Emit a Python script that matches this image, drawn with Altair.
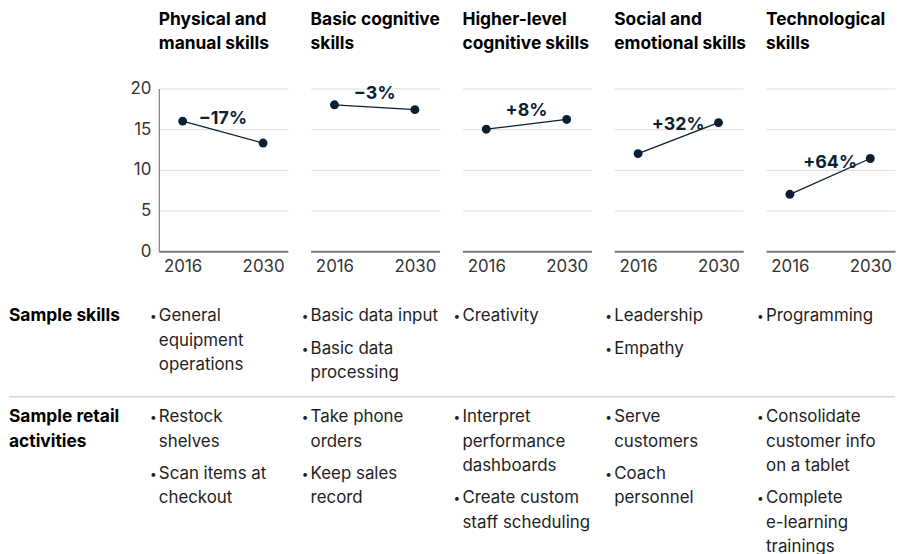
import altair as alt
import pandas as pd

# ---------------- data ----------------
titles = [
    ["Physical and", "manual skills"],
    ["Basic cognitive", "skills"],
    ["Higher-level", "cognitive skills"],
    ["Social and", "emotional skills"],
    ["Technological", "skills"],
]
years = [2016, 2030]
v2016 = [16.0, 18.0, 15.0, 12.0, 7.0]
v2030 = [13.3, 17.4, 16.2, 15.8, 11.4]
changes = ["\u221217%", "\u22123%", "+8%", "+32%", "+64%"]
y_ticks = [0, 5, 10, 15, 20]

row_labels = [["Sample skills"], ["Sample retail", "activities"]]
sample_skills = [
    [["General", "equipment", "operations"]],
    [["Basic data input"], ["Basic data", "processing"]],
    [["Creativity"]],
    [["Leadership"], ["Empathy"]],
    [["Programming"]],
]
retail_activities = [
    [["Restock", "shelves"], ["Scan items at", "checkout"]],
    [["Take phone", "orders"], ["Keep sales", "record"]],
    [["Interpret", "performance", "dashboards"], ["Create custom", "staff scheduling"]],
    [["Serve", "customers"], ["Coach", "personnel"]],
    [["Consolidate", "customer info", "on a tablet"], ["Complete", "e-learning", "trainings"]],
]

# ---------------- style / layout ----------------
FONT = "Inter"
NAVY = "#0b1f33"
TXT = "#1e1e1e"
GRID = "#dddddd"
PW = 130          # panel width
GAP = 23          # spacing between panels
H = 452           # total column height
SLOPE_H = 164     # height of the slope chart part
LINE = 24.5       # px per table line
TABLE_TOP = 229.5 # table start below panel top
BULLET_GAP = 0.33
ROW_GAP = 1.83
SEP_GAP = 0.98

slope_scale = alt.Scale(domain=[0, 20], range=[SLOPE_H, 0], nice=False, zero=False)
table_scale = alt.Scale(domain=[0, 10], range=[TABLE_TOP, TABLE_TOP + 10 * LINE], nice=False, zero=False)
x_scale = alt.Scale(domain=[2011.85, 2034.3], nice=False, zero=False)


def block(bullets, start):
    rows = []
    u = start
    for bi, b in enumerate(bullets):
        if bi > 0:
            u += BULLET_GAP
        for li, line in enumerate(b):
            rows.append({"text": line, "u": u, "first": li == 0})
            u += 1
    return rows, u - 1


row1_last = 0
for col in sample_skills:
    _, last = block(col, 0)
    row1_last = max(row1_last, last)
row2_start = row1_last + ROW_GAP
sep_u = row1_last + SEP_GAP

table_rows = []
for i in range(5):
    r1, _ = block(sample_skills[i], 0)
    r2, _ = block(retail_activities[i], row2_start)
    table_rows.append(pd.DataFrame(r1 + r2))

label_rows = []
for li, line in enumerate(row_labels[0]):
    label_rows.append({"text": line, "u": li})
for li, line in enumerate(row_labels[1]):
    label_rows.append({"text": line, "u": row2_start + li})
label_df = pd.DataFrame(label_rows)
sep_df = pd.DataFrame({"u": [sep_u]})


def separator(x2):
    return alt.Chart(sep_df).mark_rule(color="#d6d6d6", strokeWidth=1.5).encode(
        y=alt.Y("u:Q", scale=table_scale, axis=None),
        x=alt.value(0),
        x2=alt.value(x2),
    )


cols = []
for i in range(5):
    df = pd.DataFrame({"year": years, "value": [v2016[i], v2030[i]]})
    lab = pd.DataFrame({
        "year": [sum(years) / 2],
        "value": [(v2016[i] + v2030[i]) / 2],
        "label": [changes[i]],
    })
    first = i == 0
    yaxis = alt.Axis(
        values=y_ticks, grid=True, gridColor=GRID, gridWidth=1,
        domain=first, domainColor="#666666", domainWidth=1,
        ticks=False, labels=True, labelOpacity=1 if first else 0,
        labelFont=FONT, labelFontSize=17,
        labelColor="#333333", labelPadding=8, title=None,
    )
    xaxis = alt.Axis(
        values=years, format="d", title=None, ticks=False, grid=False,
        offset=-(H - SLOPE_H), domainColor="#7a7a7a", domainWidth=1.8,
        labelPadding=7, labelFont=FONT, labelFontSize=17, labelColor="#333333",
        labelFlush=False,
    )
    base = alt.Chart(df)
    line = base.mark_line(color=NAVY, strokeWidth=1.3).encode(
        x=alt.X("year:Q", scale=x_scale, axis=xaxis),
        y=alt.Y("value:Q", scale=slope_scale, axis=yaxis),
    )
    pts = base.mark_point(filled=True, opacity=1, size=80, color=NAVY).encode(
        x=alt.X("year:Q", scale=x_scale),
        y=alt.Y("value:Q", scale=slope_scale),
    )
    pct = alt.Chart(lab).mark_text(
        font=FONT, fontSize=18, fontWeight="bold", color=NAVY, dy=-13, baseline="middle"
    ).encode(
        x=alt.X("year:Q", scale=x_scale),
        y=alt.Y("value:Q", scale=slope_scale),
        text="label:N",
    )
    slope = alt.layer(line, pts, pct)

    tdf = table_rows[i]
    ttext = alt.Chart(tdf).mark_text(
        font=FONT, fontSize=17, color=TXT, align="left", baseline="middle"
    ).encode(
        x=alt.value(0),
        y=alt.Y("u:Q", scale=table_scale, axis=None),
        text="text:N",
    )
    bullets = alt.Chart(tdf).transform_filter("datum.first").mark_text(
        text="\u2022", font=FONT, fontSize=12, color=TXT, align="left", baseline="middle"
    ).encode(
        x=alt.value(-9),
        y=alt.Y("u:Q", scale=table_scale, axis=None),
    )
    table = alt.layer(separator(PW if i == 4 else PW + GAP), ttext, bullets)

    col = alt.layer(slope, table).resolve_scale(y="independent").properties(
        width=PW, height=H,
        title=alt.TitleParams(
            text=titles[i], anchor="start", frame="group", font=FONT, fontSize=17.5,
            fontWeight="bold", color="#000000", lineHeight=25, offset=27,
        ),
    )
    cols.append(col)

col0_text = alt.Chart(label_df).mark_text(
    font=FONT, fontSize=17.5, fontWeight="bold", color="#000000", align="left", baseline="middle"
).encode(
    x=alt.value(0),
    y=alt.Y("u:Q", scale=table_scale, axis=None),
    text="text:N",
)
col0 = alt.layer(separator(128 + GAP), col0_text).properties(width=128, height=H)

chart = alt.hconcat(col0, *cols, spacing=GAP, bounds="flush").configure_view(
    stroke=None
).properties(padding={"left": 0, "top": 0, "right": 0, "bottom": 0})

chart.save("out.html", embed_options={"renderer": "svg", "actions": False})
